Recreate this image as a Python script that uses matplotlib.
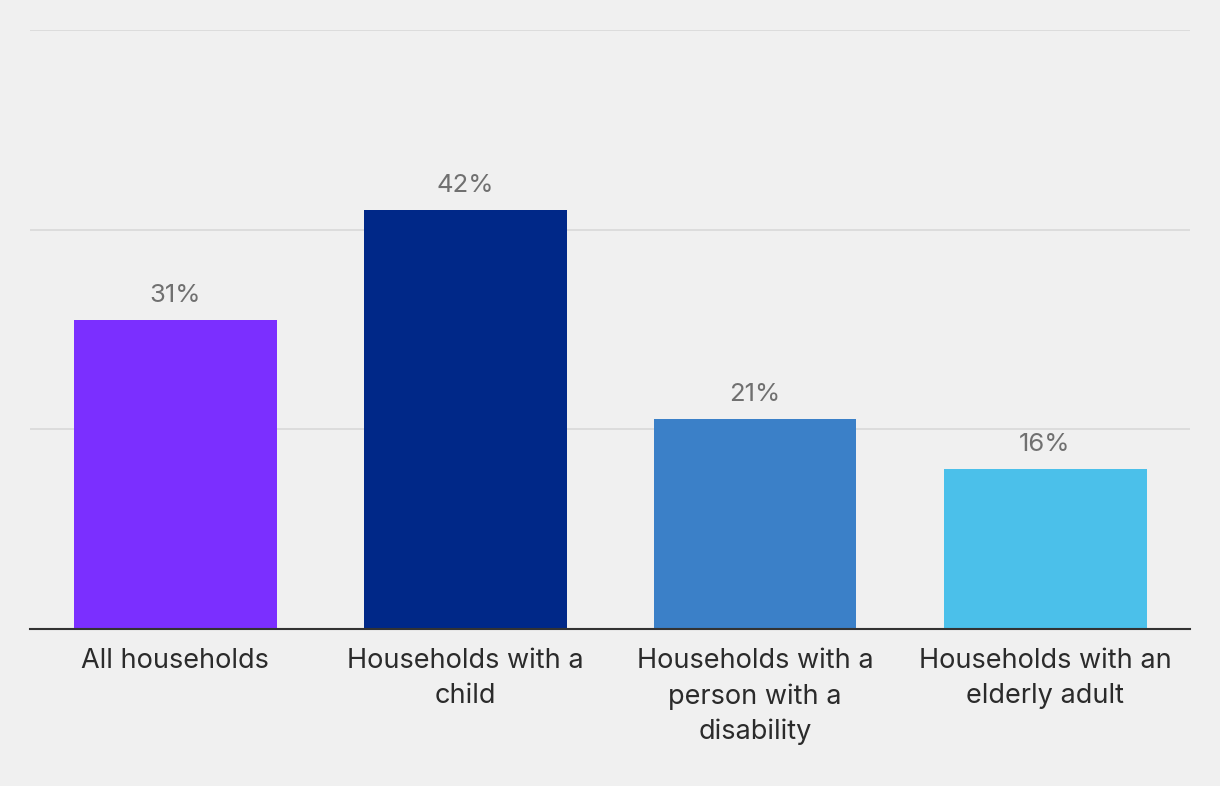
import matplotlib
matplotlib.use("Agg")
import matplotlib.pyplot as plt

categories = ["All households", "Households with a\nchild",
              "Households with a\nperson with a\ndisability",
              "Households with an\nelderly adult"]
values = [31, 42, 21, 16]
colors = ["#7B2FFF", "#002888", "#3B80C8", "#4BC0EA"]
yticks = [0, 20, 40, 60]

plt.rcParams['font.family'] = ['Inter', 'DejaVu Sans']

fig = plt.figure(figsize=(12.2, 7.86), dpi=100, facecolor="#F0F0F0")
ax = fig.add_axes([30/1220, 1 - 629/786, 1160/1220, 599/786])
ax.set_facecolor("#F0F0F0")

x = range(len(categories))
ax.bar(x, values, width=0.7, color=colors, zorder=3)
ax.set_xlim(-0.5, len(categories) - 0.5)
ax.set_ylim(0, 60)
ax.set_yticks(yticks)
ax.yaxis.grid(True, color="#D9D9D9", linewidth=1.2, zorder=0)
ax.tick_params(axis='y', length=0, labelleft=False)
ax.tick_params(axis='x', length=0, pad=14)
ax.set_xticks(list(x))
ax.set_xticklabels(categories, fontsize=19.5, color="#2B2B2B", linespacing=1.42, va='top')
for s in ["top", "right", "left"]:
    ax.spines[s].set_visible(False)
ax.spines["bottom"].set_color("#333333")
ax.spines["bottom"].set_linewidth(1.5)
ax.spines["bottom"].set_zorder(4)

for i, v in enumerate(values):
    ax.annotate(f"{v}%", (i, v), xytext=(0, 13), textcoords="offset pixels",
                ha="center", va="bottom", fontsize=18.5, color="#707070")

fig.savefig("out.png", dpi=100, facecolor=fig.get_facecolor())
